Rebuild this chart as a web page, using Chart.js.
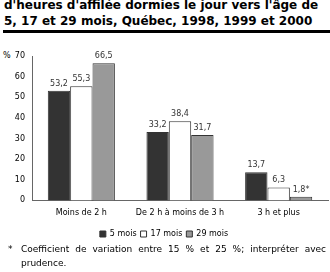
<!DOCTYPE html>
<html><head><meta charset="utf-8">
<script src="https://cdn.jsdelivr.net/npm/chart.js@4"></script>
<style>
html,body{margin:0;padding:0;background:#fff;width:330px;height:272px;overflow:hidden;position:relative;font-family:"DejaVu Sans",Verdana,sans-serif;}
#title{position:absolute;left:4px;top:-3px;font-weight:bold;font-size:12px;line-height:16px;color:#000;white-space:nowrap;}
#rule{position:absolute;left:3px;top:30px;width:327px;height:3px;background:#000;}
#wrap{position:absolute;left:0;top:36px;width:330px;height:212px;}
#pct{position:absolute;left:3px;top:51px;font-size:8px;color:#000;}
#note{position:absolute;left:0;top:242px;width:326px;font-size:9px;line-height:14px;color:#000;}
#note .star{position:absolute;left:8px;top:0;}
#note .txt{margin-left:21px;text-align:justify;text-align-last:left;}
</style></head>
<body>
<div id="title">d'heures d'affilée dormies le jour vers l'âge de<br>5, 17 et 29 mois, Québec, 1998, 1999 et 2000</div>
<div id="rule"></div>
<div id="pct">%</div>
<div id="wrap"><canvas id="c" width="330" height="212"></canvas></div>
<div id="note"><span class="star">*</span><div class="txt">Coefficient de variation entre 15&nbsp;% et 25&nbsp;%; interpréter avec prudence.</div></div>
<script>
const categories = ["Moins de 2 h", "De 2 h à moins de 3 h", "3 h et plus"];
const seriesNames = ["5 mois", "17 mois", "29 mois"];
const mois5 = [53.2, 33.2, 13.7];
const mois17 = [55.3, 38.4, 6.3];
const mois29 = [66.5, 31.7, 1.8];
const labels5 = ["53,2", "33,2", "13,7"];
const labels17 = ["55,3", "38,4", "6,3"];
const labels29 = ["66,5", "31,7", "1,8*"];
const yTicks = [0, 10, 20, 30, 40, 50, 60, 70];

const colors = ["#333333", "#ffffff", "#999999"];
const valueLabels = [labels5, labels17, labels29];
const FONT = '"DejaVu Sans", Verdana, sans-serif';

const dataLabelPlugin = {
  id: 'dl',
  afterDatasetsDraw(chart) {
    const ctx = chart.ctx;
    ctx.save();
    ctx.font = '8px ' + FONT;
    ctx.fillStyle = '#333';
    ctx.textAlign = 'center';
    ctx.textBaseline = 'bottom';
    chart.data.datasets.forEach((ds, i) => {
      const meta = chart.getDatasetMeta(i);
      meta.data.forEach((bar, j) => {
        ctx.fillText(valueLabels[i][j], bar.x, bar.y - 3);
      });
    });
    ctx.restore();
  }
};

new Chart(document.getElementById('c'), {
  type: 'bar',
  data: {
    labels: categories,
    datasets: [
      {label: seriesNames[0], data: mois5, backgroundColor: colors[0], borderColor: '#333', borderWidth: 1},
      {label: seriesNames[1], data: mois17, backgroundColor: colors[1], borderColor: '#333', borderWidth: 1},
      {label: seriesNames[2], data: mois29, backgroundColor: colors[2], borderColor: '#333', borderWidth: 1}
    ]
  },
  options: {
    responsive: false,
    animation: false,
    devicePixelRatio: 1,
    layout: {padding: {top: 20, right: 2, left: 0, bottom: 0}},
    datasets: {bar: {categoryPercentage: 0.68, barPercentage: 1.0}},
    plugins: {
      legend: {
        position: 'bottom',
        labels: {
          boxWidth: 6, boxHeight: 6, padding: 4,
          font: {family: FONT, size: 8},
          color: '#000'
        }
      },
      tooltip: {enabled: false}
    },
    scales: {
      x: {
        grid: {display: false, drawTicks: false},
        border: {display: true, color: '#666'},
        ticks: {font: {family: FONT, size: 8}, color: '#000', padding: 8, maxRotation: 0, minRotation: 0, autoSkip: false}
      },
      y: {
        min: 0, max: 70,
        afterBuildTicks(scale) { scale.ticks = yTicks.map(v => ({value: v})); },
        afterFit(scale) { scale.width = 32; },
        grid: {display: false, drawTicks: false},
        border: {display: true, color: '#666'},
        ticks: {font: {family: FONT, size: 8}, color: '#000', padding: 7}
      }
    }
  },
  plugins: [dataLabelPlugin]
});
</script>
</body></html>
